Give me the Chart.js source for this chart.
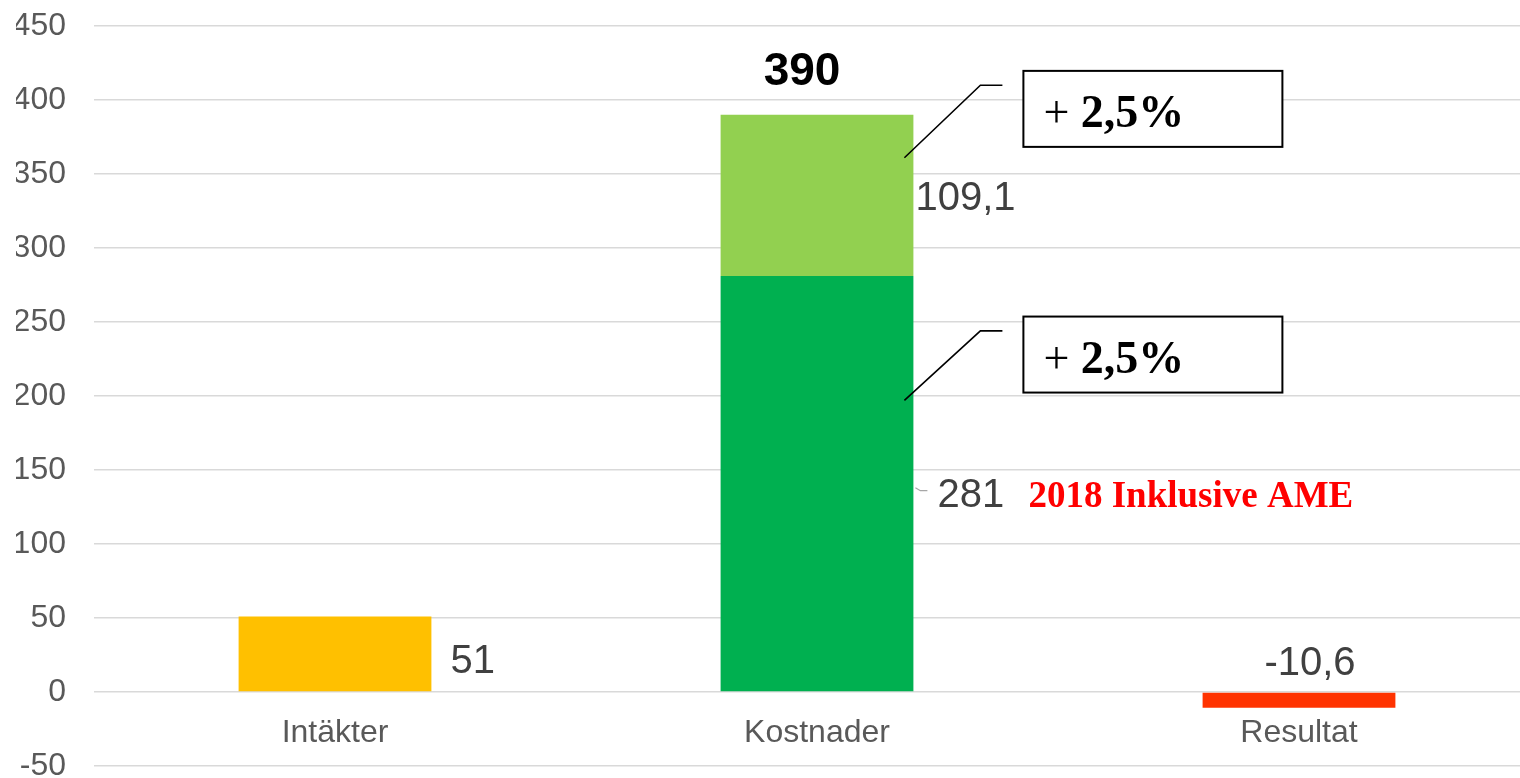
<!DOCTYPE html>
<html>
<head>
<meta charset="utf-8">
<script src="https://cdn.jsdelivr.net/npm/chart.js@4"></script>
<style>
  html, body { margin: 0; padding: 0; background: #fff; overflow: hidden; }
  #wrap { width: 1520px; height: 778px; overflow: hidden; position: relative; }
</style>
</head>
<body>
<div id="wrap"><canvas id="chart" width="1540" height="800"></canvas></div>
<script>
const categories = ['Intäkter', 'Kostnader', 'Resultat'];
const baseValues = [51, 281, -10.6];
const topValues = [null, 109.1, null];
const baseColors = ['#FFC000', '#00B050', '#FF3300'];
const topColor = '#92D050';
const yTicks = { min: -50, max: 450, step: 50 };
// callouts on the Kostnader bar: leader start, elbow and box centre in data units
const callouts = [
    { from: 361, elbow: 410, box: 394, text: '2,5%' },
    { from: 197, elbow: 244, box: 228, text: '2,5%' }
];
const note = '2018 Inklusive AME';

const fmt = v => String(v).replace('.', ',');

const labelPlugin = {
    id: 'labels',
    afterDatasetsDraw(chart) {
        const ctx = chart.ctx;
        const y = chart.scales.y;
        const base = chart.getDatasetMeta(0).data;
        const top = chart.getDatasetMeta(1).data;
        ctx.save();
        ctx.fillStyle = '#404040';
        ctx.font = '40px "Liberation Sans", Arial, sans-serif';
        ctx.textBaseline = 'middle';

        // Intäkter
        let el = base[0];
        ctx.textAlign = 'left';
        ctx.fillText(fmt(baseValues[0]), el.x + el.width / 2 + 19, (el.y + el.base) / 2 + 8);

        // Kostnader lower part, with small leader
        el = base[1];
        const r = el.x + el.width / 2;
        const cy = (el.y + el.base) / 2 + 9;
        ctx.fillText(fmt(baseValues[1]), r + 24, cy + 3);
        ctx.strokeStyle = '#a6a6a6';
        ctx.lineWidth = 1.2;
        ctx.beginPath();
        ctx.moveTo(r + 2, cy - 5);
        ctx.lineTo(r + 7, cy - 2);
        ctx.lineTo(r + 14, cy - 2);
        ctx.stroke();

        // Kostnader upper part
        const t = top[1];
        ctx.fillText(fmt(topValues[1]), r + 2, (t.y + t.base) / 2 + 4);

        // Resultat
        el = base[2];
        ctx.textAlign = 'center';
        ctx.fillText(fmt(baseValues[2]), el.x + 11, el.base - 29);

        // total above Kostnader
        ctx.fillStyle = '#000';
        ctx.font = 'bold 46px "Liberation Sans", Arial, sans-serif';
        ctx.fillText(String(Math.round(baseValues[1] + topValues[1])), t.x - 15, t.y - 42);

        // red note
        ctx.fillStyle = '#FF0000';
        ctx.textAlign = 'left';
        ctx.textBaseline = 'alphabetic';
        ctx.font = 'bold 37px "Liberation Serif", "Times New Roman", serif';
        ctx.fillText(note, r + 115, cy + 14);

        // callout boxes
        callouts.forEach(c => {
            const y0 = y.getPixelForValue(c.from);
            const y1 = y.getPixelForValue(c.elbow);
            const yb = y.getPixelForValue(c.box);
            ctx.strokeStyle = '#000';
            ctx.lineWidth = 1.6;
            ctx.beginPath();
            ctx.moveTo(r - 9, y0);
            ctx.lineTo(r + 67, y1);
            ctx.lineTo(r + 89, y1);
            ctx.stroke();
            const bx = r + 110, bw = 259, bh = 76;
            ctx.fillStyle = '#fff';
            ctx.fillRect(bx, yb - bh / 2, bw, bh);
            ctx.lineWidth = 2;
            ctx.strokeRect(bx, yb - bh / 2, bw, bh);
            ctx.fillStyle = '#000';
            ctx.font = '46px "Liberation Serif", "Times New Roman", serif';
            ctx.fillText('+ ', bx + 20, yb + 18);
            const w = ctx.measureText('+ ').width;
            ctx.font = 'bold 46px "Liberation Serif", "Times New Roman", serif';
            ctx.fillText(c.text, bx + 20 + w, yb + 18);
        });
        ctx.restore();
    }
};

Chart.defaults.font.family = '"Liberation Sans", Arial, sans-serif';

new Chart(document.getElementById('chart'), {
    type: 'bar',
    data: {
        labels: categories,
        datasets: [
            {
                label: 'base',
                data: baseValues,
                backgroundColor: baseColors,
                barPercentage: 0.4,
                categoryPercentage: 1.0
            },
            {
                label: 'top',
                data: topValues,
                backgroundColor: topColor,
                barPercentage: 0.4,
                categoryPercentage: 1.0
            }
        ]
    },
    options: {
        responsive: false,
        animation: false,
        layout: { padding: { left: 16, right: 0, top: 26, bottom: 34 } },
        plugins: {
            legend: { display: false },
            tooltip: { enabled: false }
        },
        scales: {
            x: {
                stacked: true,
                position: { y: 0 },
                afterFit: s => { s.height = 0; s.paddingTop = 0; s.paddingBottom = 0; },
                grid: { display: false },
                border: { display: false },
                ticks: { color: '#595959', font: { size: 32 }, padding: 14 }
            },
            y: {
                stacked: true,
                min: yTicks.min,
                max: yTicks.max,
                afterFit: s => { s.width = 78; s.paddingTop = 0; s.paddingBottom = 0; },
                grid: { color: '#d9d9d9', lineWidth: 1.5, drawTicks: false },
                border: { display: false },
                ticks: { stepSize: yTicks.step, color: '#595959', font: { size: 32 }, padding: 28 }
            }
        }
    },
    plugins: [labelPlugin]
});
</script>
</body>
</html>
